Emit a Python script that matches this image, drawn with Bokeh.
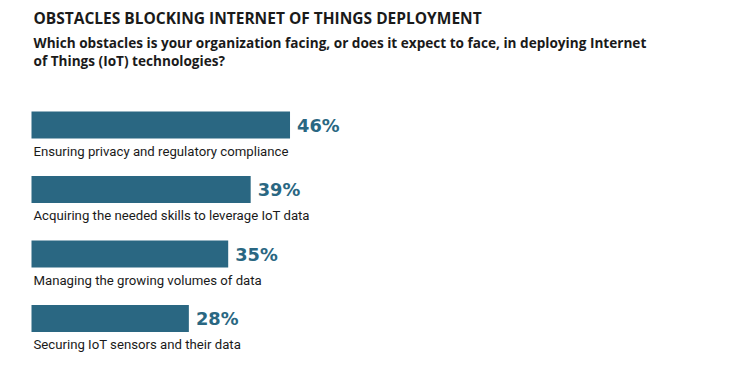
from bokeh.plotting import figure
from bokeh.models import Range1d, Label, ColumnDataSource
from bokeh.core.properties import value
from bokeh.embed import file_html
from bokeh.resources import INLINE

title = "OBSTACLES BLOCKING INTERNET OF THINGS DEPLOYMENT"
subtitle_lines = [
    "Which obstacles is your organization facing, or does it expect to face, in deploying Internet",
    "of Things (IoT) technologies?",
]
categories = [
    "Ensuring privacy and regulatory compliance",
    "Acquiring the needed skills to leverage IoT data",
    "Managing the growing volumes of data",
    "Securing IoT sensors and their data",
]
values = [46, 39, 35, 28]
value_labels = [f"{v}%" for v in values]

BAR = "#2a6782"
TXT = "#1a1a1a"
FONT = "Roboto"
WIDE = "Open Sans"
PCT = "DejaVu Sans"

idx = list(range(len(categories)))
src = ColumnDataSource(dict(
    y=idx, v=values, vl=value_labels, cat=categories,
    vx=[v + 1.25 for v in values],
    ly=[i + 0.41 for i in idx],
    lx=[0.35] * len(idx),
))

p = figure(width=750, height=377, output_backend="svg", toolbar_location=None,
           x_range=Range1d(-31 / 5.62, (750 - 31) / 5.62),
           y_range=Range1d((377 - 124.5) / 64.5, -124.5 / 64.5),
           min_border=0, outline_line_color=None)
p.axis.visible = False
p.grid.visible = False
p.background_fill_color = "white"
p.border_fill_color = "white"

p.hbar(y="y", right="v", left=0, height=0.42, source=src, color=BAR, line_color=None)
p.text(x="vx", y="y", text="vl", source=src, text_font=value(PCT), text_font_style="bold",
       text_font_size="17.8px", text_color=BAR, text_baseline="middle", text_align="left")
p.text(x="lx", y="ly", text="cat", source=src, text_font=value(FONT),
       text_font_size="13.2px", text_color=TXT, text_baseline="middle", text_align="left")

p.add_layout(Label(x=33, y=377 - 17, x_units="screen", y_units="screen", text=title,
                   text_font=WIDE, text_font_style="bold", text_font_size="15.5px",
                   text_color=TXT, text_baseline="middle"))
for k, line in enumerate(subtitle_lines):
    p.add_layout(Label(x=33, y=377 - 42 - 18 * k, x_units="screen", y_units="screen", text=line,
                       text_font=WIDE, text_font_style="bold", text_font_size="13.6px",
                       text_color=TXT, text_baseline="middle"))

open("out.html", "w").write(file_html(p, INLINE))
